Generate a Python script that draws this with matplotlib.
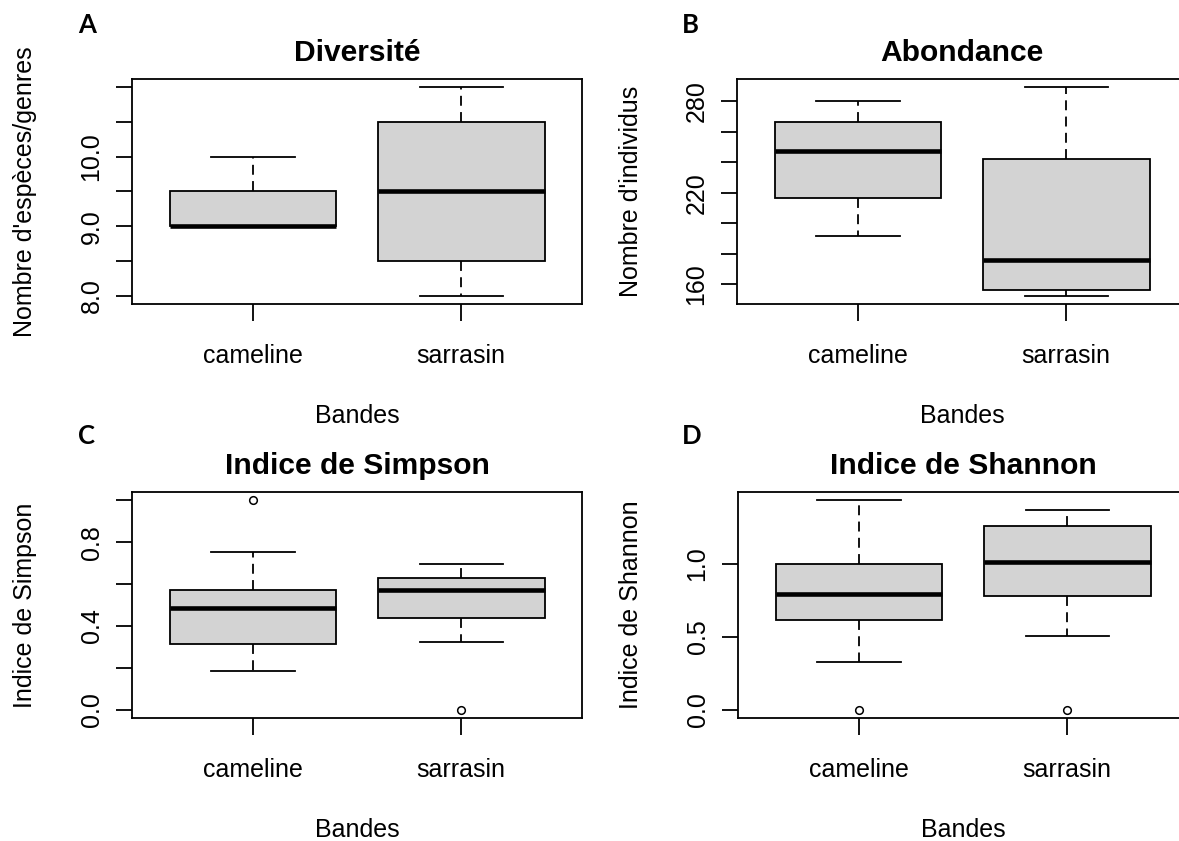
import matplotlib
matplotlib.use("Agg")

import matplotlib.pyplot as plt
import matplotlib as mpl

# =========================================================
# 0) Données (lues sur la figure)
# =========================================================
categories = ["cameline", "sarrasin"]
xlabel = "Bandes"

# A) Diversité
div_min = [9.0, 8.0]
div_q1 = [9.0, 8.5]
div_med = [9.0, 9.5]
div_q3 = [9.5, 10.5]
div_max = [10.0, 11.0]
div_out = [[], []]
div_ticks = [8.0, 8.5, 9.0, 9.5, 10.0, 10.5, 11.0]
div_labels = ["8.0", "", "9.0", "", "10.0", "", ""]

# B) Abondance
abo_min = [191.5, 152.5]
abo_q1 = [216.5, 156.3]
abo_med = [247.5, 176.0]
abo_q3 = [266.0, 242.2]
abo_max = [280.0, 289.0]
abo_out = [[], []]
abo_ticks = [160, 180, 200, 220, 240, 260, 280]
abo_labels = ["160", "", "", "220", "", "", "280"]

# C) Indice de Simpson
sim_min = [0.183, 0.324]
sim_q1 = [0.312, 0.437]
sim_med = [0.487, 0.572]
sim_q3 = [0.572, 0.628]
sim_max = [0.751, 0.695]
sim_out = [[1.0], [0.0]]
sim_ticks = [0.0, 0.2, 0.4, 0.6, 0.8, 1.0]
sim_labels = ["0.0", "", "0.4", "", "0.8", ""]

# D) Indice de Shannon
sha_min = [0.329, 0.507]
sha_q1 = [0.617, 0.781]
sha_med = [0.797, 1.011]
sha_q3 = [1.0, 1.258]
sha_max = [1.437, 1.368]
sha_out = [[0.0], [0.0]]
sha_ticks = [0.0, 0.5, 1.0]
sha_labels = ["0.0", "0.5", "1.0"]

# =========================================================
# 1) Style "R base"
# =========================================================
mpl.rcParams["font.family"] = ["Liberation Sans", "DejaVu Sans"]
mpl.rcParams["axes.unicode_minus"] = False

W, H, DPI = 1179, 841, 100
LW = 1.3
FS = 18


def make_stats(lo, q1, med, q3, hi, out):
    stats = []
    for i in range(len(med)):
        stats.append(dict(whislo=lo[i], q1=q1[i], med=med[i], q3=q3[i],
                          whishi=hi[i], fliers=out[i]))
    return stats


def panel(rect_px, stats, title, ylabel, ticks, labels, letter, letter_xy):
    x0, y0, w, h = rect_px
    ax = fig.add_axes([x0 / W, 1 - (y0 + h) / H, w / W, h / H])
    ax.bxp(stats, positions=[1, 2], widths=0.8, capwidths=0.4,
           patch_artist=True, showfliers=True,
           boxprops=dict(facecolor="#D3D3D3", edgecolor="black", linewidth=LW),
           medianprops=dict(color="black", linewidth=3.3, solid_capstyle="butt"),
           whiskerprops=dict(color="black", linewidth=LW, linestyle=(0, (5.5, 3.5))),
           capprops=dict(color="black", linewidth=LW),
           flierprops=dict(marker="o", markerfacecolor="none", markeredgecolor="black",
                           markersize=5.5, markeredgewidth=1.1))

    # limites comme R (4 % de marge)
    vals = [v for s in stats for v in [s["whislo"], s["whishi"]] + list(s["fliers"])]
    lo, hi = min(vals), max(vals)
    ax.set_ylim(lo - 0.04 * (hi - lo), hi + 0.04 * (hi - lo))
    ax.set_xlim(0.42, 2.58)

    ax.set_xticks([1, 2])
    ax.set_xticklabels(categories, fontsize=FS)
    ax.set_yticks(ticks)
    ax.set_yticklabels(labels, fontsize=FS, rotation=90, va="center")
    ax.tick_params(axis="x", direction="out", length=12, width=LW, pad=17)
    ax.tick_params(axis="y", direction="out", length=11.5, width=LW, pad=9)
    for sp in ax.spines.values():
        sp.set_linewidth(LW)

    ax.set_title(title, fontsize=21.6, fontweight="bold", pad=13)
    ax.set_ylabel(ylabel, fontsize=FS)
    ax.yaxis.set_label_coords(-0.21, 0.5)
    ax.set_xlabel(xlabel, fontsize=FS)
    ax.xaxis.set_label_coords(0.5, -0.444)

    fig.text(letter_xy[0] / W, 1 - letter_xy[1] / H, letter, ha="center", va="center",
             fontsize=18.5, fontweight="bold", family=["Lato", "DejaVu Sans"])
    return ax


# =========================================================
# 2) Figure
# =========================================================
fig = plt.figure(figsize=(W / DPI, H / DPI), dpi=DPI)
fig.patch.set_facecolor("white")

panel((132, 79, 450, 225), make_stats(div_min, div_q1, div_med, div_q3, div_max, div_out),
      "Diversité", "Nombre d'espèces/genres", div_ticks, div_labels, "A", (87, 25))
panel((737, 79, 450, 225), make_stats(abo_min, abo_q1, abo_med, abo_q3, abo_max, abo_out),
      "Abondance", "Nombre d'individus", abo_ticks, abo_labels, "B", (690, 25))
panel((132, 492, 450, 226), make_stats(sim_min, sim_q1, sim_med, sim_q3, sim_max, sim_out),
      "Indice de Simpson", "Indice de Simpson", sim_ticks, sim_labels, "C", (87, 436))
panel((738, 492, 450, 226), make_stats(sha_min, sha_q1, sha_med, sha_q3, sha_max, sha_out),
      "Indice de Shannon", "Indice de Shannon", sha_ticks, sha_labels, "D", (692, 436))

fig.savefig("out.png", dpi=DPI, facecolor="white")
